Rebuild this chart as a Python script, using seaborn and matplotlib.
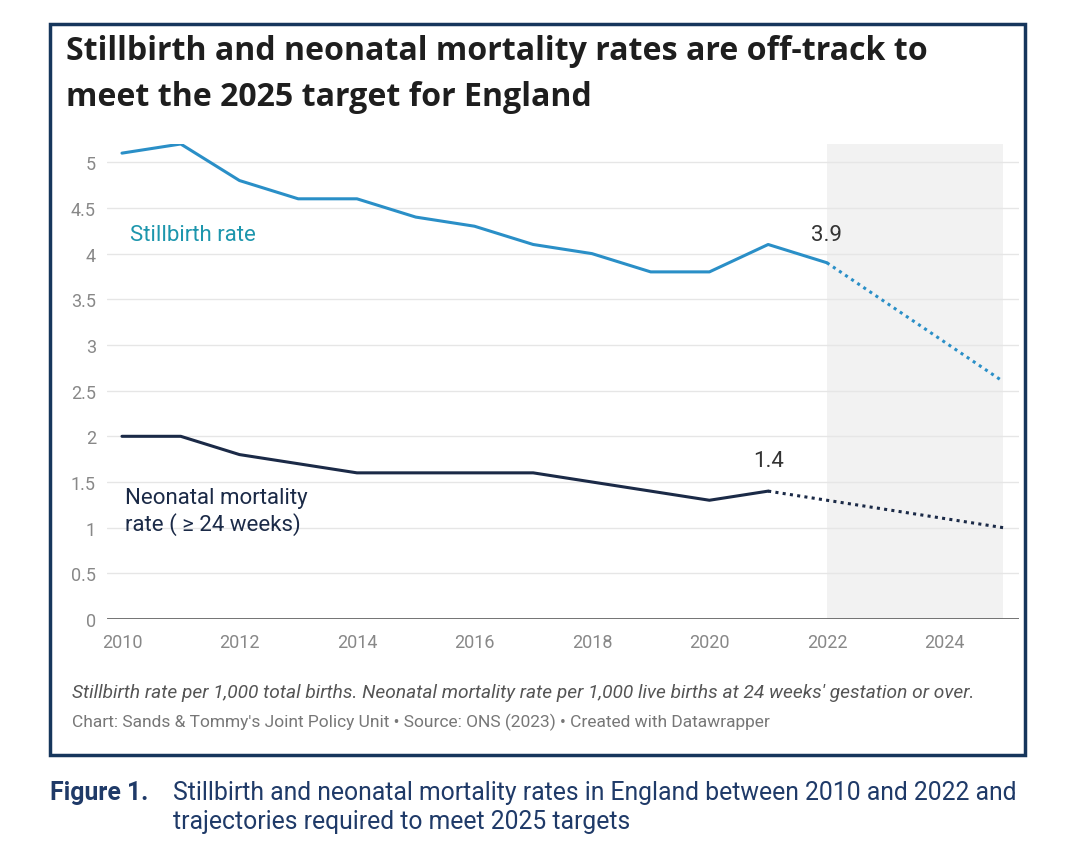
import numpy as np
import matplotlib
matplotlib.use("Agg")
import matplotlib.pyplot as plt
import seaborn as sns
import pandas as pd
from matplotlib.patches import Rectangle

# datos
years = [2010, 2011, 2012, 2013, 2014, 2015, 2016, 2017, 2018, 2019, 2020, 2021, 2022]
stillbirth = [5.1, 5.2, 4.8, 4.6, 4.6, 4.4, 4.3, 4.1, 4.0, 3.8, 3.8, 4.1, 3.9]
neonatal = [2.0, 2.0, 1.8, 1.7, 1.6, 1.6, 1.6, 1.6, 1.5, 1.4, 1.3, 1.4]
still_target_years = [2022, 2025]
still_target = [3.9, 2.6]
neo_target_years = [2021, 2025]
neo_target = [1.4, 1.0]
yticks = [0, 0.5, 1, 1.5, 2, 2.5, 3, 3.5, 4, 4.5, 5]
ytick_labels = ["0", "0.5", "1", "1.5", "2", "2.5", "3", "3.5", "4", "4.5", "5"]
xticks = [2010, 2012, 2014, 2016, 2018, 2020, 2022, 2024]

sns.set_theme(style="white")
plt.rcParams['font.family'] = ['Roboto', 'DejaVu Sans']

W, H = 1079, 853
fig = plt.figure(figsize=(W / 100, H / 100), dpi=100)
ax = fig.add_axes([107 / W, 1 - 620 / H, 912 / W, 475 / H])

blue = "#2a8fc7"
navy = "#1b2a47"

df_s = pd.DataFrame({"year": years, "rate": stillbirth})
df_n = pd.DataFrame({"year": years[:len(neonatal)], "rate": neonatal})
df_st = pd.DataFrame({"year": still_target_years, "rate": still_target})
df_nt = pd.DataFrame({"year": neo_target_years, "rate": neo_target})

ax.axvspan(2022, 2025, ymin=0, ymax=1, color="#f2f2f2", zorder=0, lw=0)
for yt in yticks[1:]:
    ax.axhline(yt, color="#e6e6e6", lw=1, zorder=1)
ax.axhline(0, color="#666666", lw=2, zorder=2)

sns.lineplot(data=df_s, x="year", y="rate", ax=ax, color=blue, lw=2.2, zorder=3)
sns.lineplot(data=df_n, x="year", y="rate", ax=ax, color=navy, lw=2.2, zorder=3)
sns.lineplot(data=df_st, x="year", y="rate", ax=ax, color=blue, lw=2.2, ls=(0, (1, 1.4)), zorder=3)
sns.lineplot(data=df_nt, x="year", y="rate", ax=ax, color=navy, lw=2.2, ls=(0, (1, 1.4)), zorder=3)

ax.set_xlim(2009.745, 2025.27)
ax.set_ylim(0, 5.2)
ax.set_yticks(yticks)
ax.set_yticklabels(ytick_labels)
ax.set_xticks(xticks)
ax.set_xticklabels([str(x) for x in xticks])
ax.tick_params(axis="both", length=0, labelsize=13, colors="#888888")
ax.tick_params(axis="y", pad=8)
ax.tick_params(axis="x", pad=10)
for s in ax.spines.values():
    s.set_visible(False)
ax.set_xlabel("")
ax.set_ylabel("")

# etiquetas
ax.text(2010.14, 4.21, "Stillbirth rate", color="#1d96ad", fontsize=16, va="center", ha="left")
ax.text(2010.05, 1.18, "Neonatal mortality\nrate ( \u2265 24 weeks)", color=navy, fontsize=16,
        va="center", ha="left", linespacing=1.25)
ax.text(still_target_years[0], 4.21, f"{still_target[0]}", color="#333333", fontsize=16, ha="center", va="center")
ax.text(neo_target_years[0], 1.73, f"{neo_target[0]}", color="#333333", fontsize=16, ha="center", va="center")

# titulo y notas
title_font = ["Open Sans", "DejaVu Sans"]
fig.text(66 / W, 1 - 52 / H, "Stillbirth and neonatal mortality rates are off-track to",
         fontsize=23.1, fontweight="bold", color="#1e1e1e", va="center", ha="left", family=title_font)
fig.text(66 / W, 1 - 97 / H, "meet the 2025 target for England",
         fontsize=23.1, fontweight="bold", color="#1e1e1e", va="center", ha="left", family=title_font)
fig.text(72 / W, 1 - 693 / H,
         "Stillbirth rate per 1,000 total births. Neonatal mortality rate per 1,000 live births at 24 weeks' gestation or over.",
         fontsize=13.75, style="italic", color="#555555", va="center", ha="left")
fig.text(72 / W, 1 - 722 / H,
         "Chart: Sands & Tommy's Joint Policy Unit \u2022 Source: ONS (2023) \u2022 Created with Datawrapper",
         fontsize=12.5, color="#777777", va="center", ha="left")

fig.patches.append(Rectangle((50 / W, 1 - 756 / H), 975 / W, 731 / H, transform=fig.transFigure,
                             fill=False, edgecolor="#16365c", lw=2.5))

cap_color = "#1f3a68"
fig.text(50 / W, 1 - 793 / H, "Figure 1.", fontsize=17.8, fontweight="bold", color=cap_color,
         va="center", ha="left")
fig.text(173 / W, 1 - 793 / H,
         "Stillbirth and neonatal mortality rates in England between 2010 and 2022 and",
         fontsize=17.8, color=cap_color, va="center", ha="left")
fig.text(173 / W, 1 - 822 / H, "trajectories required to meet 2025 targets",
         fontsize=17.8, color=cap_color, va="center", ha="left")

fig.savefig("out.png", dpi=100)
